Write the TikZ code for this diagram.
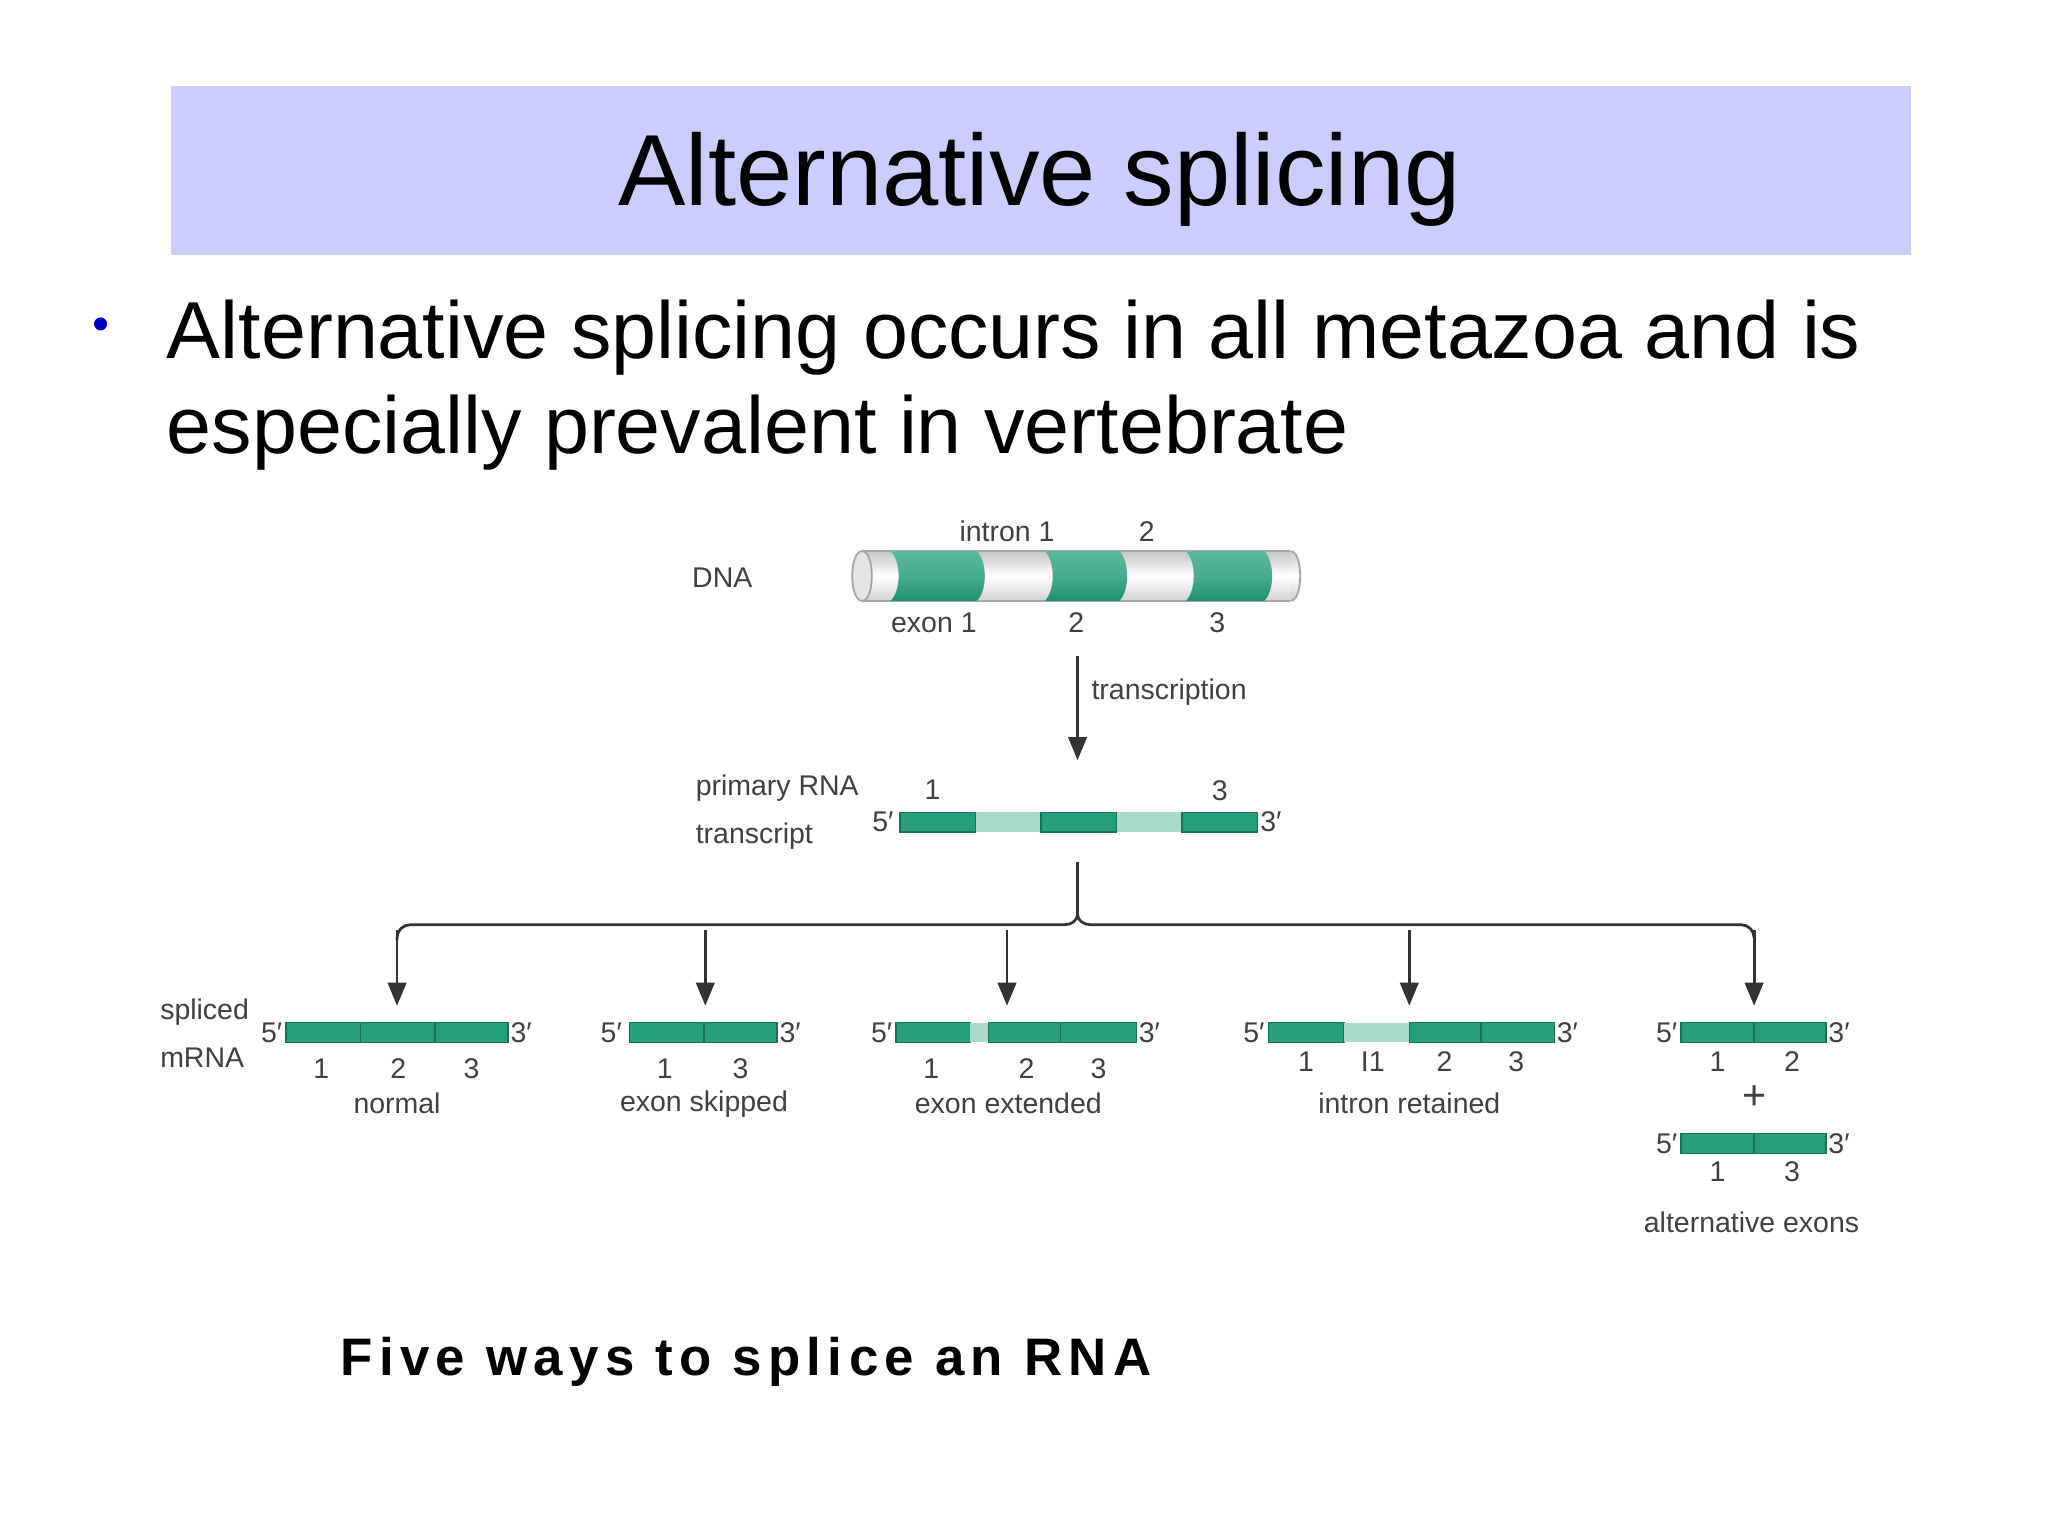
\documentclass[tikz,border=0pt]{standalone}
\usepackage{fontspec}
\setmainfont{Liberation Sans}
\usetikzlibrary{arrows.meta}
\definecolor{band}{HTML}{CCCCFF}
\definecolor{gr}{HTML}{259E7C}
\definecolor{grl}{HTML}{A9DACA}
\definecolor{tx}{HTML}{404040}
\tikzset{
 lab/.style={font=\fontsize{6.2}{7.5}\selectfont, text=tx, inner sep=0pt},
 conn/.style={draw=black!80, line width=0.6pt},
 arr/.style={conn, -{Triangle[length=5pt,width=4pt]}},
 dk/.style={fill=gr, draw=gr!70!black, line width=0.3pt},
 lt/.style={fill=grl, draw=none},
}
\newcommand{\seg}[4]{\path[#1] (#2,#4) rectangle (#3,#4+15);}
\begin{document}
\begin{tikzpicture}[x=0.01cm,y=-0.01cm]
\useasboundingbox[fill=white] (0,0) rectangle (1568,1176);
% title
\fill[band] (131,66) rectangle (1463,195);
\node[font=\fontsize{22}{26}\selectfont] (title) at (796,137) {Alternative splicing};
% bullet
\fill[blue!75!black] (77,248) circle (5);
\node[anchor=north west, align=left, font=\fontsize{17.6}{20.6}\selectfont, inner sep=0pt] (btxt) at (127,229)
 {Alternative splicing occurs in all metazoa and is\\especially prevalent in vertebrate};
% DNA cylinder
\shade[top color=gray!45, bottom color=gray!35, middle color=white] (660,422) rectangle (988,460);
\draw[gray!70] (660,422) -- (988,422) (660,460) -- (988,460);
\shade[top color=gray!40, bottom color=gray!40, middle color=white] (988,422) .. controls (998,422) and (998,460) .. (988,460) -- cycle;
\draw[gray!70] (988,422) .. controls (998,422) and (998,460) .. (988,460);
\foreach \a/\b in {682/748,800/857,908/968}{
 \shade[top color=gr!75, bottom color=gr!90!black, middle color=gr!85] (\a,422) .. controls (\a+8,430) and (\a+8,452) .. (\a,460) -- (\b,460) .. controls (\b+8,452) and (\b+8,430) .. (\b,422) -- cycle;
}
\draw[gray!70, fill=gray!20] (660,422) .. controls (650,422) and (650,460) .. (660,460) .. controls (670,460) and (670,422) .. (660,422);
\node[lab] (dnal) at (553,442) {DNA};
\node[lab] (i1) at (771,407) {intron 1};
\node[lab] (i2) at (878,407) {2};
\node[lab] (e1) at (715,477) {exon 1};
\node[lab] (e2) at (824,477) {2};
\node[lab] (e3) at (932,477) {3};
% transcription
\coordinate (ta) at (825,502);
\coordinate (tb) at (825,582);
\draw[arr] (ta) -- (tb);
\node[lab, anchor=west] (trl) at (835,530) {transcription};
% primary transcript
\seg{dk}{689}{747}{622}\seg{lt}{747}{797}{622}\seg{dk}{797}{855}{622}\seg{lt}{855}{905}{622}\seg{dk}{905}{963}{622}
\node[lab] at (676,629) {5′};\node[lab] at (973,629) {3′};
\node[lab] at (714,605) {1};\node[lab] at (934,605) {3};
\node[lab, anchor=west, align=left] (prl) at (532,622) {primary RNA\\[3pt]transcript};
% tree
\coordinate (r0) at (825,660);
\coordinate (r1) at (825,700);
\draw[conn] (r0) -- (r1) to[out=-90,in=0] (815,708) -- (314,708) to[out=180,in=90] (304,718) -- (304,720);
\draw[conn] (r1) to[out=-90,in=180] (835,708) -- (1333,708) to[out=0,in=90] (1343,718);
\foreach \x in {304,540,771,1079,1343}{
 \draw[arr] (\x,712) -- (\x,770);
}
\node[lab, anchor=west, align=left] (spl) at (122,791) {spliced\\[3pt]mRNA};
% 1 normal
\seg{dk}{219}{276}{783}\seg{dk}{276}{333}{783}\seg{dk}{333}{389}{783}
\node[lab] at (208,791) {5′};\node[lab] at (399,791) {3′};
\node[lab] at (246,818) {1};\node[lab] at (305,818) {2};\node[lab] at (361,818) {3};
\node[lab] at (304,845) {normal};
% 2 skipped
\seg{dk}{482}{539}{783}\seg{dk}{539}{595}{783}
\node[lab] at (468,791) {5′};\node[lab] at (605,791) {3′};
\node[lab] at (509,818) {1};\node[lab] at (567,818) {3};
\node[lab] at (539,845) {exon skipped};
% 3 extended
\seg{dk}{686}{743}{783}\seg{lt}{743}{757}{783}\seg{dk}{757}{812}{783}\seg{dk}{812}{870}{783}
\node[lab] at (675,791) {5′};\node[lab] at (880,791) {3′};
\node[lab] at (713,818) {1};\node[lab] at (786,818) {2};\node[lab] at (841,818) {3};
\node[lab] at (772,845) {exon extended};
% 4 intron retained
\seg{dk}{971}{1029}{783}\seg{lt}{1029}{1079}{783}\seg{dk}{1079}{1134}{783}\seg{dk}{1134}{1190}{783}
\node[lab] at (960,791) {5′};\node[lab] at (1200,791) {3′};
\node[lab] at (1000,813) {1};\node[lab] at (1051,813) {I1};\node[lab] at (1106,813) {2};\node[lab] at (1161,813) {3};
\node[lab] at (1079,845) {intron retained};
% 5 alternative
\seg{dk}{1287}{1343}{783}\seg{dk}{1343}{1398}{783}
\node[lab] at (1276,791) {5′};\node[lab] at (1408,791) {3′};
\node[lab] at (1315,813) {1};\node[lab] at (1372,813) {2};
\node[lab, font=\fontsize{9}{10}\selectfont] at (1343,840) {+};
\seg{dk}{1287}{1343}{868}\seg{dk}{1343}{1398}{868}
\node[lab] at (1276,876) {5′};\node[lab] at (1408,876) {3′};
\node[lab] at (1315,897) {1};\node[lab] at (1372,897) {3};
\node[lab] at (1341,936) {alternative exons};
% caption
\node[anchor=west, inner sep=0pt, font=\fontsize{11.5}{14}\selectfont\bfseries\addfontfeature{LetterSpace=12}] (cap) at (260,1043) {Five ways to splice an RNA};
\end{tikzpicture}
\end{document}
